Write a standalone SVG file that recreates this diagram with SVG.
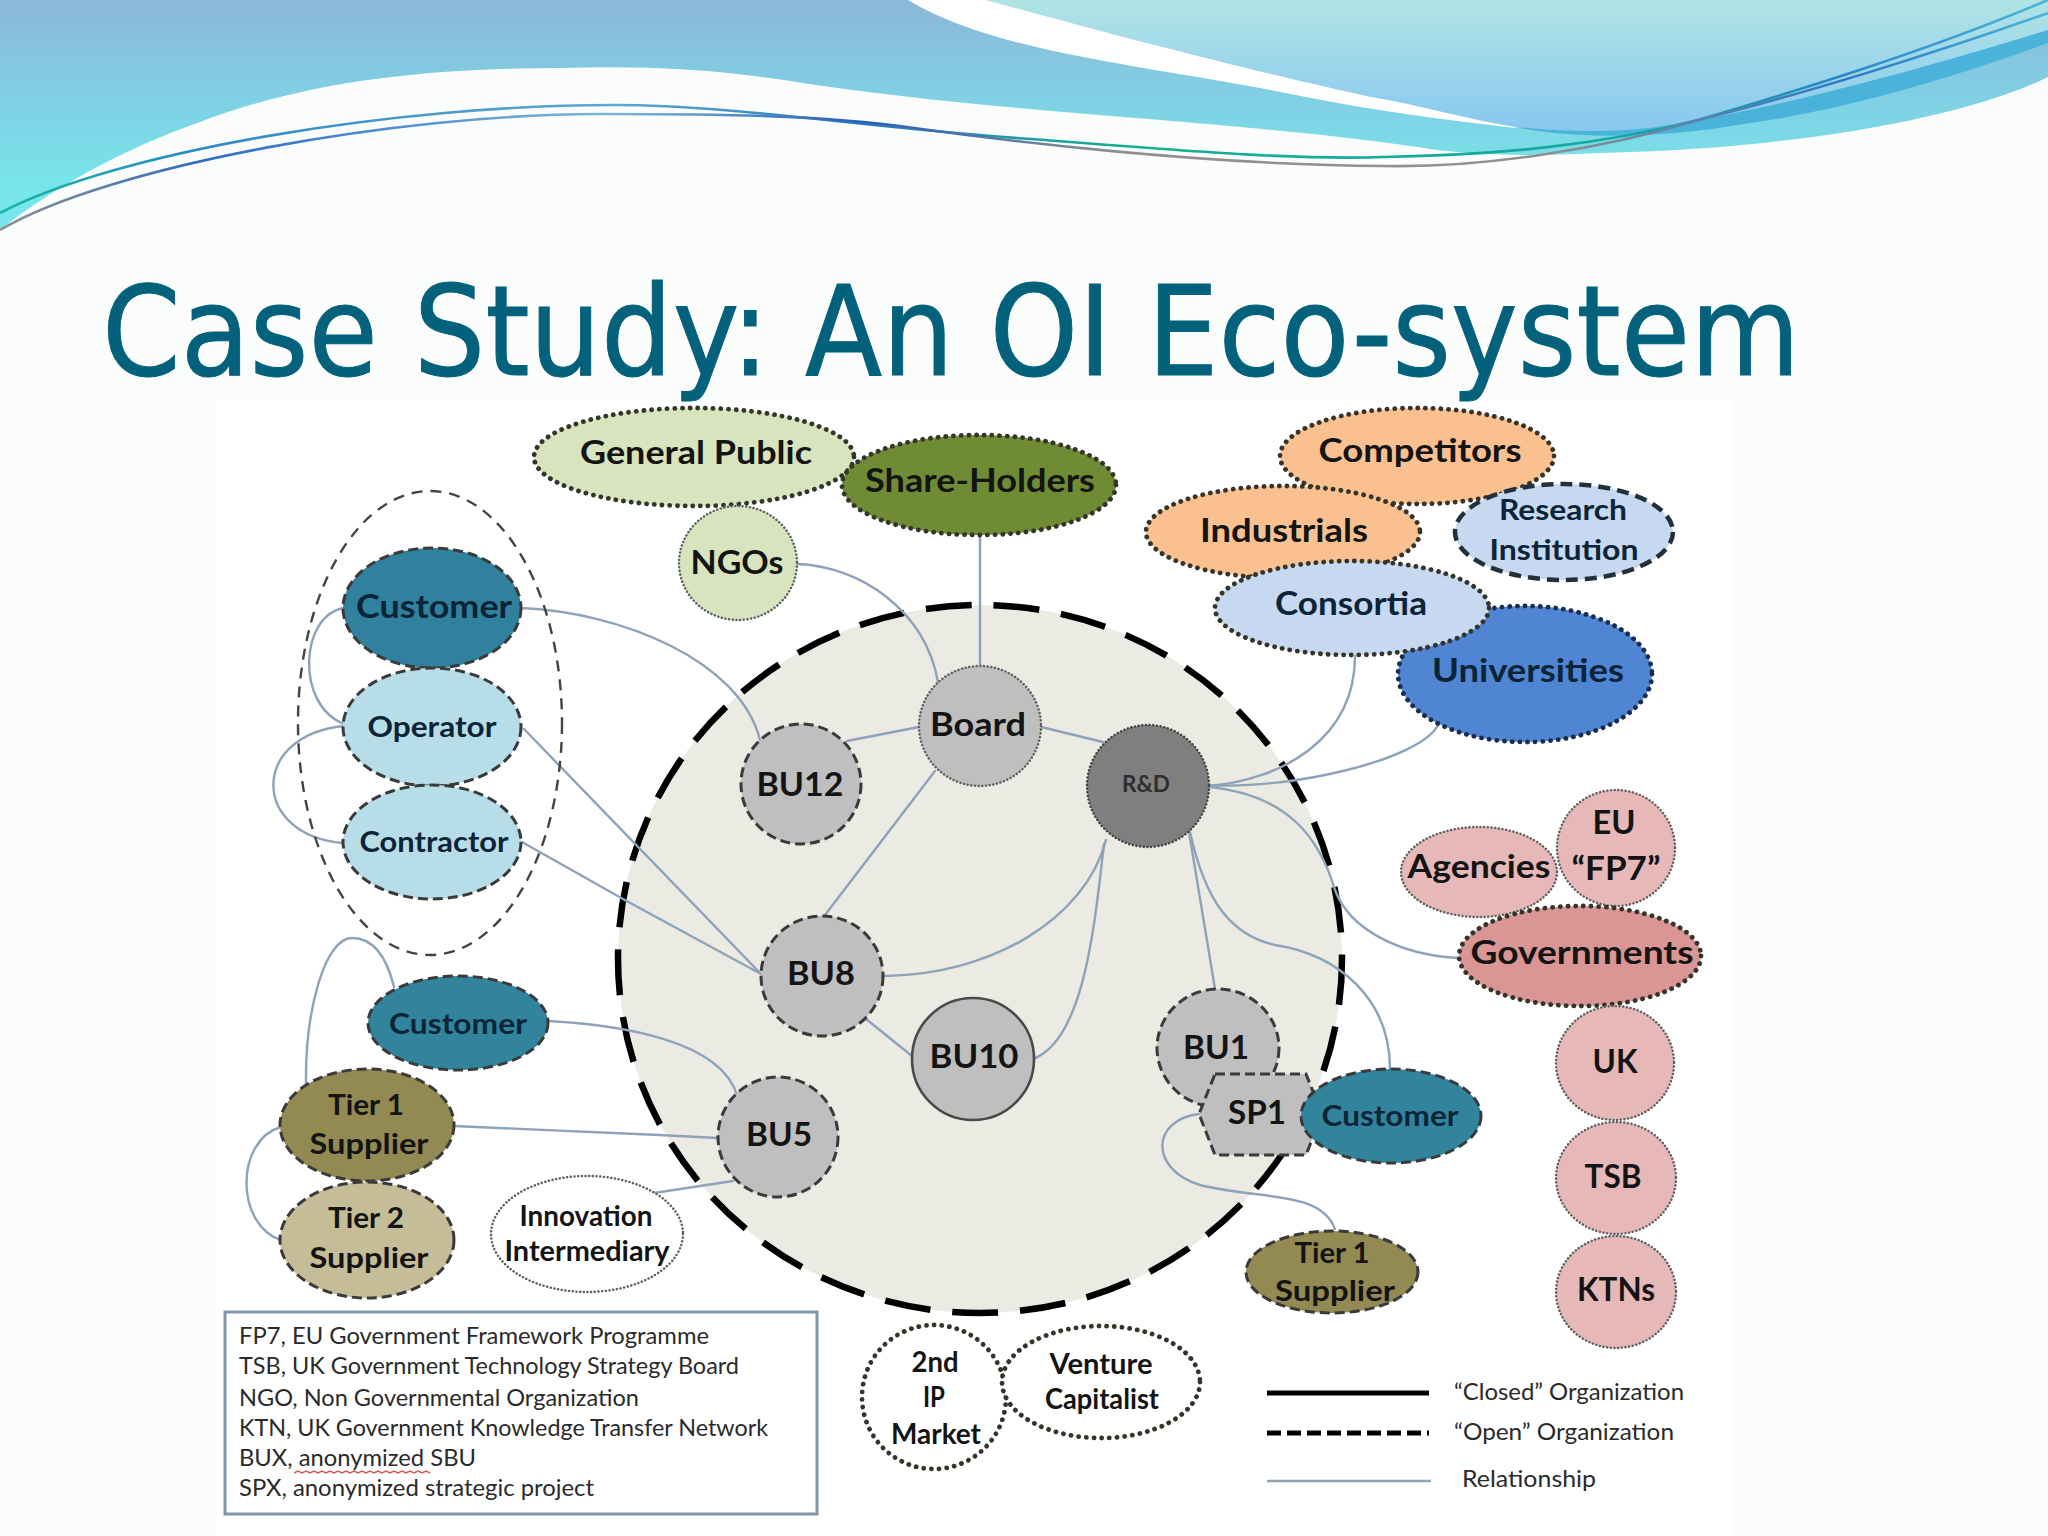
<svg xmlns="http://www.w3.org/2000/svg" width="2048" height="1536" viewBox="0 0 2048 1536">
<defs>
<linearGradient id="gMain" gradientUnits="userSpaceOnUse" x1="0" y1="0" x2="0" y2="190"><stop offset="0" stop-color="#8bb8d8"/><stop offset="1" stop-color="#76e6ec"/></linearGradient>
<linearGradient id="gPale" x1="0" y1="0" x2="0" y2="1"><stop offset="0" stop-color="#b0e4e4"/><stop offset="1" stop-color="#88c8f0"/></linearGradient>
<linearGradient id="gLine" gradientUnits="userSpaceOnUse" x1="0" y1="0" x2="2048" y2="0"><stop offset="0" stop-color="#17b89c"/><stop offset=".1" stop-color="#2f8ac4"/><stop offset=".3" stop-color="#5fa8cc"/><stop offset=".42" stop-color="#2a7cc0"/><stop offset=".55" stop-color="#14b090"/><stop offset=".8" stop-color="#12a8a0"/><stop offset=".9" stop-color="#2a88c4"/><stop offset="1" stop-color="#4cb4d8"/></linearGradient>
<linearGradient id="gLine2" gradientUnits="userSpaceOnUse" x1="0" y1="0" x2="2048" y2="0"><stop offset="0" stop-color="#909090"/><stop offset=".1" stop-color="#2f6cc4"/><stop offset=".3" stop-color="#7ab8d8"/><stop offset=".42" stop-color="#2a60b8"/><stop offset=".55" stop-color="#909090"/><stop offset=".75" stop-color="#909090"/><stop offset=".9" stop-color="#2a78c4"/><stop offset="1" stop-color="#4cb4d8"/></linearGradient>
</defs>
<style>
.t{font-family:"Lato","Liberation Sans",sans-serif;font-weight:700;font-size:33px;fill:#141414;text-anchor:middle}
.m{font-size:29px}
.dk{fill:#0c2438}
.l{font-family:"Lato","Liberation Sans",sans-serif;font-weight:400;font-size:23px;fill:#2a2a2a}
.r{fill:none;stroke:#8ea2b8;stroke-width:2.4;stroke-linecap:round}
.dotB{stroke:#34342a;stroke-width:4.8;stroke-dasharray:.1 7.6;stroke-linecap:round}
.dotS{stroke:#606060;stroke-width:2.5;stroke-dasharray:.1 3.6;stroke-linecap:round}
.dash{stroke:#3a3a3a;stroke-width:3;stroke-dasharray:10 5}
</style>
<rect width="2048" height="1536" fill="#fbfdfd"/>
<rect x="215" y="400" width="1515" height="1136" fill="#ffffff"/>
<g id="header">
<path d="M0 0H2048V77C1960 120 1780 150 1600 153C1540 156 1490 156 1437 150C1250 120 1000 115 784 80C700 68 640 66 562 68C430 68 310 80 200 122C120 150 50 190 0 230Z" fill="url(#gMain)"/>
<path d="M908 0C1000 55 1150 65 1306 97C1380 112 1450 120 1515 128L1530 124L1371 90L986 0Z" fill="#fff"/>
<path d="M986 0C1130 40 1290 80 1371 97C1420 105 1470 120 1515 127C1600 135 1650 130 1698 120C1790 104 1920 70 2048 30V0Z" fill="url(#gPale)"/>
<path d="M1515 127C1600 135 1650 130 1698 120C1790 104 1920 70 2048 30V43C1960 75 1850 110 1737 125C1680 135 1590 142 1515 127Z" fill="#4ab3dc"/>
<path d="M0 213C120 150 400 105 614 105C740 105 880 130 1045 140C1200 152 1300 160 1384 157C1500 155 1600 145 1698 120C1800 90 1930 50 2048 0" fill="none" stroke="url(#gLine)" stroke-width="2.6"/>
<path d="M0 230C110 165 400 114 600 114C720 114 820 115 914 128C1000 140 1200 165 1384 166C1480 168 1600 150 1698 120C1800 95 1930 55 2048 13" fill="none" stroke="url(#gLine2)" stroke-width="2.6"/>
</g>
<text x="102" y="375" font-family="'DejaVu Sans',sans-serif" font-size="125" fill="#04617b" stroke="#04617b" stroke-width="1" textLength="1698" lengthAdjust="spacingAndGlyphs">Case Study: An OI Eco-system</text>
<g id="boundary"><ellipse cx="980" cy="959" rx="362" ry="354" fill="#ecebe3" stroke="#000" stroke-width="6.5" stroke-dasharray="46 22"/></g>
<g id="connectors">
<path class="r" d="M797 564C860 566 925 610 938 682"/>
<path class="r" d="M980 535V666"/>
<path class="r" d="M521 608C620 612 740 660 760 740"/>
<path class="r" d="M344 608C300 615 295 705 344 724"/>
<path class="r" d="M344 726C250 735 250 835 343 843"/>
<path class="r" d="M524 729L761 974"/>
<path class="r" d="M522 842L623 899L761 974"/>
<path class="r" d="M847 741L919 727"/>
<path class="r" d="M935 771L825 915"/>
<path class="r" d="M1041 727L1103 742"/>
<path class="r" d="M1209 786C1280 780 1355 740 1355 656"/>
<path class="r" d="M1209 785C1290 790 1420 760 1438 725"/>
<path class="r" d="M1209 787C1290 795 1320 840 1335 890C1350 930 1400 955 1459 958"/>
<path class="r" d="M1189 832L1215 989"/>
<path class="r" d="M1190 832C1205 900 1230 935 1275 945C1340 955 1390 1000 1390 1069"/>
<path class="r" d="M1106 840C1085 920 990 975 884 976"/>
<path class="r" d="M1104 844C1095 920 1085 1040 1033 1059"/>
<path class="r" d="M866 1019L912 1056"/>
<path class="r" d="M548 1021C620 1025 720 1040 737 1095"/>
<path class="r" d="M394 987C385 950 370 938 352 938C325 938 305 1010 306 1084"/>
<path class="r" d="M454 1126L659 1135L718 1138"/>
<path class="r" d="M281 1127C235 1140 235 1225 281 1240"/>
<path class="r" d="M654 1193L733 1181"/>
<path class="r" d="M1199 1114C1150 1120 1150 1170 1200 1185C1260 1200 1320 1190 1335 1229"/>
</g>
<g id="group-oval"><ellipse cx="430" cy="723" rx="132" ry="232" fill="none" stroke="#444" stroke-width="2.4" stroke-dasharray="11 8"/></g>
<g id="general-public"><ellipse class="dotB" cx="694" cy="457" rx="160" ry="49" fill="#d7e4bd"/><text class="t" x="696" y="464" textLength="232" lengthAdjust="spacingAndGlyphs">General Public</text></g>
<g id="share-holders"><ellipse class="dotB" cx="979" cy="485" rx="137" ry="50" fill="#6f8c35"/><text class="t" x="980" y="492" textLength="230" lengthAdjust="spacingAndGlyphs">Share-Holders</text></g>
<g id="ngos"><ellipse class="dotS" cx="738" cy="563" rx="59" ry="57" fill="#d7e4bd"/><text class="t" x="737" y="574" textLength="93" lengthAdjust="spacingAndGlyphs">NGOs</text></g>
<g id="customer-a"><ellipse class="dash" cx="432" cy="608" rx="89" ry="60" fill="#2f819e"/><text class="t dk" x="434" y="618" textLength="156" lengthAdjust="spacingAndGlyphs">Customer</text></g>
<g id="operator"><ellipse class="dash" cx="432" cy="727" rx="89" ry="59" fill="#b7dde8"/><text class="t m dk" x="432" y="737" textLength="129" lengthAdjust="spacingAndGlyphs">Operator</text></g>
<g id="contractor"><ellipse class="dash" cx="432" cy="842" rx="89" ry="57" fill="#b7dde8"/><text class="t m dk" x="434" y="852" textLength="149" lengthAdjust="spacingAndGlyphs">Contractor</text></g>
<g id="bu12"><ellipse class="dash" cx="801" cy="784" rx="60" ry="60" fill="#bfbfbf"/><text class="t" x="800" y="796" textLength="87" lengthAdjust="spacingAndGlyphs">BU12</text></g>
<g id="board"><ellipse class="dotS" cx="980" cy="726" rx="61" ry="60" fill="#bfbfbf"/><text class="t" x="978" y="736" textLength="96" lengthAdjust="spacingAndGlyphs">Board</text></g>
<g id="rd"><ellipse class="dotS" cx="1148" cy="786" rx="61" ry="61" fill="#7f7f7f" style="stroke:#444"/><text class="t" x="1146" y="792" style="font-size:22px;fill:#2e2e2e" textLength="48" lengthAdjust="spacingAndGlyphs">R&amp;D</text></g>
<g id="bu8"><ellipse class="dash" cx="822" cy="976" rx="61" ry="60" fill="#bfbfbf"/><text class="t" x="821" y="985" textLength="68" lengthAdjust="spacingAndGlyphs">BU8</text></g>
<g id="bu10"><ellipse cx="973" cy="1059" rx="61" ry="61" fill="#bfbfbf" stroke="#4a4a4a" stroke-width="2.6"/><text class="t" x="974" y="1068" textLength="89" lengthAdjust="spacingAndGlyphs">BU10</text></g>
<g id="bu5"><ellipse class="dash" cx="778" cy="1137" rx="60" ry="60" fill="#bfbfbf"/><text class="t" x="779" y="1146" textLength="66" lengthAdjust="spacingAndGlyphs">BU5</text></g>
<g id="customer-b"><ellipse class="dash" cx="458" cy="1023" rx="90" ry="47" fill="#31849b"/><text class="t m dk" x="458" y="1034" textLength="138" lengthAdjust="spacingAndGlyphs">Customer</text></g>
<g id="tier1-a"><ellipse class="dash" cx="367" cy="1125" rx="87" ry="56" fill="#938953"/><text class="t m" x="366" y="1115" textLength="76" lengthAdjust="spacingAndGlyphs">Tier 1</text><text class="t m" x="369" y="1154" textLength="119" lengthAdjust="spacingAndGlyphs">Supplier</text></g>
<g id="tier2"><ellipse class="dash" cx="367" cy="1240" rx="87" ry="58" fill="#c4bd97"/><text class="t m" x="366" y="1228" textLength="76" lengthAdjust="spacingAndGlyphs">Tier 2</text><text class="t m" x="369" y="1268" textLength="119" lengthAdjust="spacingAndGlyphs">Supplier</text></g>
<g id="innovation"><ellipse class="dotS" cx="587" cy="1234" rx="96" ry="58" fill="#fff"/><text class="t" style="font-size:28px" x="586" y="1226" textLength="133" lengthAdjust="spacingAndGlyphs">Innovation</text><text class="t" style="font-size:28px" x="587" y="1261" textLength="165" lengthAdjust="spacingAndGlyphs">Intermediary</text></g>
<g id="ip-market"><ellipse class="dotB" cx="934" cy="1397" rx="72" ry="72" fill="#fff"/><text class="t m" x="935" y="1372" textLength="47" lengthAdjust="spacingAndGlyphs">2nd</text><text class="t m" x="934" y="1407" textLength="22" lengthAdjust="spacingAndGlyphs">IP</text><text class="t m" x="936" y="1444" textLength="90" lengthAdjust="spacingAndGlyphs">Market</text></g>
<g id="venture"><ellipse class="dotB" cx="1101" cy="1382" rx="99" ry="56" fill="#fff"/><text class="t m" x="1101" y="1374" textLength="103" lengthAdjust="spacingAndGlyphs">Venture</text><text class="t m" x="1102" y="1409" textLength="114" lengthAdjust="spacingAndGlyphs">Capitalist</text></g>
<g id="competitors"><ellipse class="dotB" cx="1417" cy="456" rx="137" ry="48" fill="#fac090"/><text class="t" x="1420" y="462" textLength="203" lengthAdjust="spacingAndGlyphs">Competitors</text></g>
<g id="industrials"><ellipse class="dotB" cx="1283" cy="532" rx="137" ry="46" fill="#fac090"/><text class="t" x="1284" y="542" textLength="168" lengthAdjust="spacingAndGlyphs">Industrials</text></g>
<g id="research"><ellipse cx="1564" cy="532" rx="109" ry="48" fill="#c6d9f0" stroke="#22303c" stroke-width="4.5" stroke-dasharray="12 7"/><text class="t m dk" x="1563" y="520" textLength="128" lengthAdjust="spacingAndGlyphs">Research</text><text class="t m dk" x="1564" y="560" textLength="149" lengthAdjust="spacingAndGlyphs">Institution</text></g>
<g id="universities"><ellipse class="dotB" cx="1525" cy="674" rx="127" ry="68" fill="#4f85d2" style="stroke:#1a2c50"/><text class="t dk" x="1528" y="682" textLength="192" lengthAdjust="spacingAndGlyphs">Universities</text></g>
<g id="consortia"><ellipse class="dotB" cx="1352" cy="608" rx="137" ry="47" fill="#c6d9f0"/><text class="t dk" x="1351" y="615" textLength="152" lengthAdjust="spacingAndGlyphs">Consortia</text></g>
<g id="agencies"><ellipse class="dotS" cx="1479" cy="872" rx="78" ry="45" fill="#e6b9b8"/><text class="t" x="1479" y="878" textLength="143" lengthAdjust="spacingAndGlyphs">Agencies</text></g>
<g id="eu-fp7"><ellipse class="dotS" cx="1616" cy="848" rx="59" ry="58" fill="#e6b9b8"/><text class="t" x="1614" y="834" textLength="43" lengthAdjust="spacingAndGlyphs">EU</text><text class="t" x="1616" y="880" textLength="89" lengthAdjust="spacingAndGlyphs">“FP7”</text></g>
<g id="governments"><ellipse class="dotB" cx="1580" cy="956" rx="121" ry="50" fill="#d99694"/><text class="t" x="1582" y="964" textLength="223" lengthAdjust="spacingAndGlyphs">Governments</text></g>
<g id="uk"><ellipse class="dotS" cx="1615" cy="1063" rx="59" ry="57" fill="#e6b9b8"/><text class="t" x="1615" y="1073" textLength="45" lengthAdjust="spacingAndGlyphs">UK</text></g>
<g id="tsb"><ellipse class="dotS" cx="1616" cy="1178" rx="60" ry="56" fill="#e6b9b8"/><text class="t" x="1613" y="1188" textLength="57" lengthAdjust="spacingAndGlyphs">TSB</text></g>
<g id="ktns"><ellipse class="dotS" cx="1616" cy="1292" rx="60" ry="56" fill="#e6b9b8"/><text class="t" x="1616" y="1301" textLength="78" lengthAdjust="spacingAndGlyphs">KTNs</text></g>
<g id="bu1"><ellipse class="dash" cx="1218" cy="1048" rx="61" ry="59" fill="#bfbfbf"/><text class="t" x="1216" y="1059" textLength="66" lengthAdjust="spacingAndGlyphs">BU1</text></g>
<g id="sp1"><polygon class="dash" points="1215,1074 1306,1074 1322,1114 1306,1155 1215,1155 1199,1114" fill="#bfbfbf"/><text class="t" x="1257" y="1124" textLength="58" lengthAdjust="spacingAndGlyphs">SP1</text></g>
<g id="customer-c"><ellipse class="dash" cx="1391" cy="1116" rx="90" ry="47" fill="#31849b"/><text class="t m dk" x="1390" y="1126" textLength="137" lengthAdjust="spacingAndGlyphs">Customer</text></g>
<g id="tier1-b"><ellipse class="dash" cx="1332" cy="1272" rx="86" ry="41" fill="#938953"/><text class="t m" x="1332" y="1263" textLength="75" lengthAdjust="spacingAndGlyphs">Tier 1</text><text class="t m" x="1335" y="1301" textLength="120" lengthAdjust="spacingAndGlyphs">Supplier</text></g>
<g id="abbreviations">
<rect x="225" y="1312" width="592" height="202" fill="#fff" stroke="#8296a8" stroke-width="3"/>
<text class="l" x="239" y="1344" textLength="470" lengthAdjust="spacingAndGlyphs">FP7, EU Government Framework Programme</text>
<text class="l" x="239" y="1374" textLength="500" lengthAdjust="spacingAndGlyphs">TSB, UK Government Technology Strategy Board</text>
<text class="l" x="239" y="1406" textLength="400" lengthAdjust="spacingAndGlyphs">NGO, Non Governmental Organization</text>
<text class="l" x="239" y="1436" textLength="529" lengthAdjust="spacingAndGlyphs">KTN, UK Government Knowledge Transfer Network</text>
<text class="l" x="239" y="1466" textLength="237" lengthAdjust="spacingAndGlyphs">BUX, anonymized SBU</text>
<text class="l" x="239" y="1496" textLength="355" lengthAdjust="spacingAndGlyphs">SPX, anonymized strategic project</text>
<path d="M294 1473l4 -2l4 2l4 -2l4 2l4 -2l4 2l4 -2l4 2l4 -2l4 2l4 -2l4 2l4 -2l4 2l4 -2l4 2l4 -2l4 2l4 -2l4 2l4 -2l4 2l4 -2l4 2l4 -2l4 2l4 -2l4 2l4 -2l4 2l4 -2l4 2l4 -2l4 2" fill="none" stroke="#d85a5a" stroke-width="1.4"/>
</g>
<g id="line-key">
<line x1="1267" y1="1393" x2="1429" y2="1393" stroke="#000" stroke-width="5"/>
<line x1="1267" y1="1433" x2="1429" y2="1433" stroke="#000" stroke-width="5" stroke-dasharray="14 6"/>
<line x1="1267" y1="1481" x2="1431" y2="1481" stroke="#8ea2b8" stroke-width="2.4"/>
<text class="l" x="1454" y="1400" textLength="230" lengthAdjust="spacingAndGlyphs">“Closed” Organization</text>
<text class="l" x="1454" y="1440" textLength="220" lengthAdjust="spacingAndGlyphs">“Open” Organization</text>
<text class="l" x="1462" y="1487" textLength="134" lengthAdjust="spacingAndGlyphs">Relationship</text>
</g>
</svg>
